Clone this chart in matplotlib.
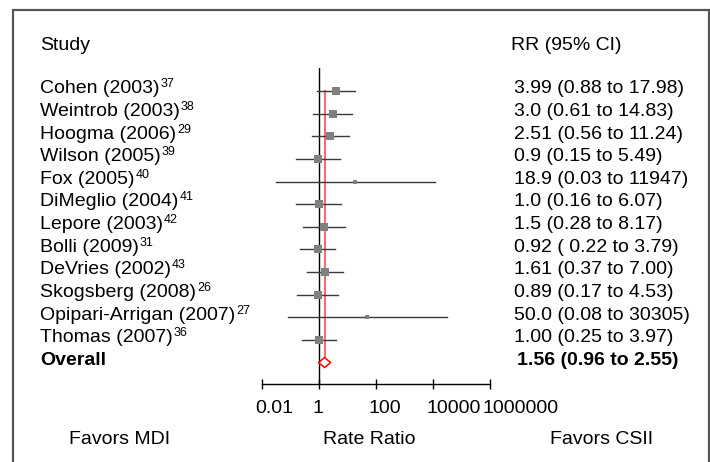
import matplotlib
matplotlib.use("Agg")
import matplotlib.pyplot as plt
import matplotlib.transforms as mtransforms
from matplotlib.patches import Rectangle, Polygon

plt.rcParams['font.family'] = ['Liberation Sans', 'DejaVu Sans']

# ---- data ----
studies = ["Cohen (2003)", "Weintrob (2003)", "Hoogma (2006)", "Wilson (2005)",
           "Fox (2005)", "DiMeglio (2004)", "Lepore (2003)", "Bolli (2009)",
           "DeVries (2002)", "Skogsberg (2008)", "Opipari-Arrigan (2007)", "Thomas (2007)"]
refs = ["37", "38", "29", "39", "40", "41", "42", "31", "43", "26", "27", "36"]
rr = [3.99, 3.0, 2.51, 0.9, 18.9, 1.0, 1.5, 0.92, 1.61, 0.89, 50.0, 1.00]
lo = [0.88, 0.61, 0.56, 0.15, 0.03, 0.16, 0.28, 0.22, 0.37, 0.17, 0.08, 0.25]
hi = [17.98, 14.83, 11.24, 5.49, 11947, 6.07, 8.17, 3.79, 7.00, 4.53, 30305, 3.97]
rr_text = ["3.99 (0.88 to 17.98)", "3.0 (0.61 to 14.83)", "2.51 (0.56 to 11.24)",
           "0.9 (0.15 to 5.49)", "18.9 (0.03 to 11947)", "1.0 (0.16 to 6.07)",
           "1.5 (0.28 to 8.17)", "0.92 ( 0.22 to 3.79)", "1.61 (0.37 to 7.00)",
           "0.89 (0.17 to 4.53)", "50.0 (0.08 to 30305)", "1.00 (0.25 to 3.97)"]
marker_sizes = [5.5, 5.5, 5.5, 5.5, 3, 5.5, 5.5, 5.5, 5.5, 5.5, 3, 5.5]
overall = 1.56
overall_lo = 0.96
overall_hi = 2.55
overall_text = "1.56 (0.96 to 2.55)"
tick_vals = [0.01, 1, 100, 10000, 1000000]
tick_labels = ["0.01", "1", "100", "10000", "1000000"]

W, H = 710, 462
fig = plt.figure(figsize=(W / 100, H / 100), dpi=100)
renderer = fig.canvas.get_renderer()

# frame
fig.patches.append(Rectangle((13 / W, -0.05), (709 - 13) / W, (H - 10) / H + 0.05,
                             transform=fig.transFigure, fill=False,
                             edgecolor='#555555', linewidth=1.6))

ax_left, ax_right = 262 / W, 490 / W
ax_top, ax_bot = 68 / H, 384 / H
ax = fig.add_axes([ax_left, 1 - ax_bot, ax_right - ax_left, ax_bot - ax_top])
ax.set_xscale('log')
ax.set_xlim(0.01, 1e6)
row0, step = 91, 22.63
ax.set_ylim((384 - row0) / step, (68 - row0) / step)
ax.patch.set_alpha(0)
for s in ['top', 'right', 'left']:
    ax.spines[s].set_visible(False)
ax.spines['bottom'].set_linewidth(1.0)
ax.set_yticks([])
ax.set_xticks(tick_vals)
ax.set_xticklabels(tick_labels)
ax.xaxis.set_minor_locator(matplotlib.ticker.NullLocator())
fs = 14
ax.tick_params(axis='x', direction='inout', length=7, width=1, labelsize=fs, pad=8)
offset = mtransforms.ScaledTranslation(-7 / 100, 0, fig.dpi_scale_trans)
for lab in ax.get_xticklabels():
    lab.set_horizontalalignment('left')
    lab.set_transform(lab.get_transform() + offset)

n = len(studies)
# null line
ax.axvline(1, color='black', linewidth=1.0, zorder=1)
# overall line (red)
ax.plot([overall, overall], [0, n - 0.23], color='#f07070', linewidth=1.5, zorder=2)

for i in range(n):
    ax.plot([lo[i], hi[i]], [i, i], color='#3a3a3a', linewidth=1.0, zorder=3)
    ax.plot([rr[i]], [i], marker='s', color='#808080', markersize=marker_sizes[i],
            markeredgewidth=0, zorder=4)

# diamond
dh = 0.22
ax.add_patch(Polygon([[overall_lo, n], [overall, n - dh], [overall_hi, n], [overall, n + dh]],
                     closed=True, fill=False, edgecolor='red', linewidth=1.1, zorder=5))

tr = mtransforms.blended_transform_factory(fig.transFigure, ax.transData)
bl = 0.1  # baseline offset (rows)
for i in range(n):
    t = ax.text(40 / W, i + bl, studies[i], transform=tr, fontsize=fs,
                va='baseline', ha='left', clip_on=False)
    wpx = t.get_window_extent(renderer).width
    sup_tr = tr + mtransforms.ScaledTranslation((wpx + 1) / 100, 6 / 100, fig.dpi_scale_trans)
    ax.text(40 / W, i + bl, refs[i], transform=sup_tr, fontsize=9,
            va='baseline', ha='left', clip_on=False)
    ax.text(514 / W, i + bl, rr_text[i], transform=tr, fontsize=fs, va='baseline',
            ha='left', clip_on=False)
ax.text(40 / W, n + bl, "Overall", transform=tr, fontsize=fs, fontweight='bold',
        va='baseline', ha='left', clip_on=False)
ax.text(517 / W, n + bl, overall_text, transform=tr, fontsize=fs, fontweight='bold',
        va='baseline', ha='left', clip_on=False)

fig.text(40 / W, 1 - 50 / H, "Study", fontsize=fs, va='baseline', ha='left')
fig.text(511 / W, 1 - 50 / H, "RR (95% CI)", fontsize=fs, va='baseline', ha='left')

fig.text(120 / W, 1 - 444 / H, "Favors MDI", fontsize=fs, va='baseline', ha='center')
fig.text(369 / W, 1 - 444 / H, "Rate Ratio", fontsize=fs, va='baseline', ha='center')
fig.text(602 / W, 1 - 444 / H, "Favors CSII", fontsize=fs, va='baseline', ha='center')

fig.savefig("out.png", dpi=100)
